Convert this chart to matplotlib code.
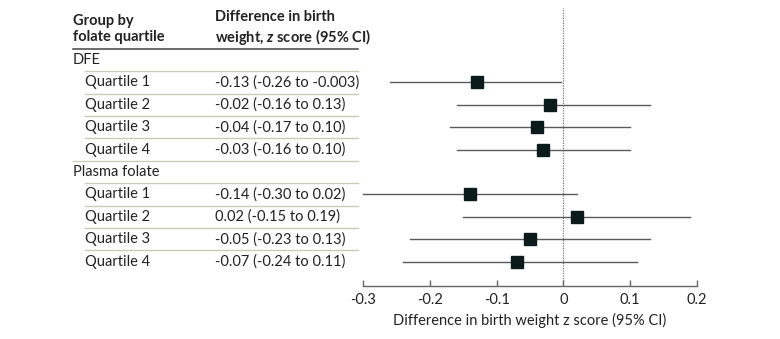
import matplotlib
matplotlib.use("Agg")
import matplotlib.pyplot as plt
import matplotlib.transforms as mtransforms

plt.rcParams["font.family"] = ["Lato", "DejaVu Sans"]
plt.rcParams["axes.unicode_minus"] = False
plt.rcParams["mathtext.fontset"] = "custom"
plt.rcParams["mathtext.it"] = "Lato:italic:bold"
plt.rcParams["mathtext.rm"] = "Lato:bold"

# data
groups = ["DFE", "Plasma folate"]
quartiles = ["Quartile 1", "Quartile 2", "Quartile 3", "Quartile 4"]
dfe_est = [-0.13, -0.02, -0.04, -0.03]
dfe_lo = [-0.26, -0.16, -0.17, -0.16]
dfe_hi = [-0.003, 0.13, 0.10, 0.10]
dfe_txt = ["-0.13 (-0.26 to -0.003)", "-0.02 (-0.16 to 0.13)",
           "-0.04 (-0.17 to 0.10)", "-0.03 (-0.16 to 0.10)"]
plasma_est = [-0.14, 0.02, -0.05, -0.07]
plasma_lo = [-0.30, -0.15, -0.23, -0.24]
plasma_hi = [0.02, 0.19, 0.13, 0.11]
plasma_txt = ["-0.14 (-0.30 to 0.02)", "0.02 (-0.15 to 0.19)",
              "-0.05 (-0.23 to 0.13)", "-0.07 (-0.24 to 0.11)"]
xticks = [-0.3, -0.2, -0.1, 0, 0.1, 0.2]
xticklabels = ["-0.3", "-0.2", "-0.1", "0", "0.1", "0.2"]

fig = plt.figure(figsize=(7.8, 3.39), dpi=100)
ax = fig.add_axes([363 / 780, 53 / 339, 334 / 780, 278 / 339])
ax.set_xlim(-0.3, 0.2)
ax.set_ylim(10.09, -2.32)

trans = mtransforms.blended_transform_factory(fig.transFigure, ax.transData)
x_lab = 73 / 780
x_ind = 85 / 780
x_val = 215 / 780
x_end = 358 / 780
fs = 10.5
sep_col = "#cbcbb8"
line_col = "#5a5a5a"
box_col = "#0b1a1a"

# header
ax.text(x_lab, -1.4, "Group by\nfolate quartile", transform=trans, ha="left",
        va="center", fontsize=fs, fontweight="bold", color="#222222")
ax.text(x_val, -1.4, "Difference in birth\nweight, $z$ score (95% CI)",
        transform=trans, ha="left", va="center", fontsize=fs,
        fontweight="bold", color="#222222")
ax.plot([x_lab, x_end], [-0.5, -0.5], transform=trans, color="#444444",
        lw=1.1, clip_on=False)

row = 0
for g, est, lo, hi, txt in [(groups[0], dfe_est, dfe_lo, dfe_hi, dfe_txt),
                            (groups[1], plasma_est, plasma_lo, plasma_hi, plasma_txt)]:
    ax.text(x_lab, row, g, transform=trans, ha="left", va="center",
            fontsize=fs, color="#222222")
    ax.plot([x_ind, x_end], [row + 0.5, row + 0.5], transform=trans,
            color=sep_col, lw=1, clip_on=False)
    row += 1
    for i, q in enumerate(quartiles):
        ax.text(x_ind, row, q, transform=trans, ha="left", va="center",
                fontsize=fs, color="#222222")
        ax.text(x_val, row, txt[i], transform=trans, ha="left", va="center",
                fontsize=fs, color="#222222")
        ax.plot([lo[i], hi[i]], [row, row], color=line_col, lw=1.0, zorder=2)
        ax.plot(est[i], row, marker="s", markersize=8.6, color=box_col,
                markeredgecolor=box_col, zorder=3)
        if i < 3:
            ax.plot([x_ind, x_end], [row + 0.5, row + 0.5], transform=trans,
                    color=sep_col, lw=1, clip_on=False)
        elif g == groups[0]:
            ax.plot([x_lab, x_end], [row + 0.5, row + 0.5], transform=trans,
                    color=sep_col, lw=1, clip_on=False)
        row += 1

ax.axvline(0, color="#777777", lw=0.9, ls=(0, (1, 1)), zorder=1)

for s in ["top", "right", "left"]:
    ax.spines[s].set_visible(False)
ax.spines["bottom"].set_color("#666666")
ax.spines["bottom"].set_linewidth(1.0)
ax.set_yticks([])
ax.set_xticks(xticks)
ax.set_xticklabels(xticklabels, fontsize=fs, color="#222222")
ax.tick_params(axis="x", direction="in", length=4, width=1.0,
               color="#666666", pad=5)
ax.set_xlabel("Difference in birth weight z score (95% CI)", fontsize=fs,
              color="#222222", labelpad=4)

fig.savefig("out.png", dpi=100)
